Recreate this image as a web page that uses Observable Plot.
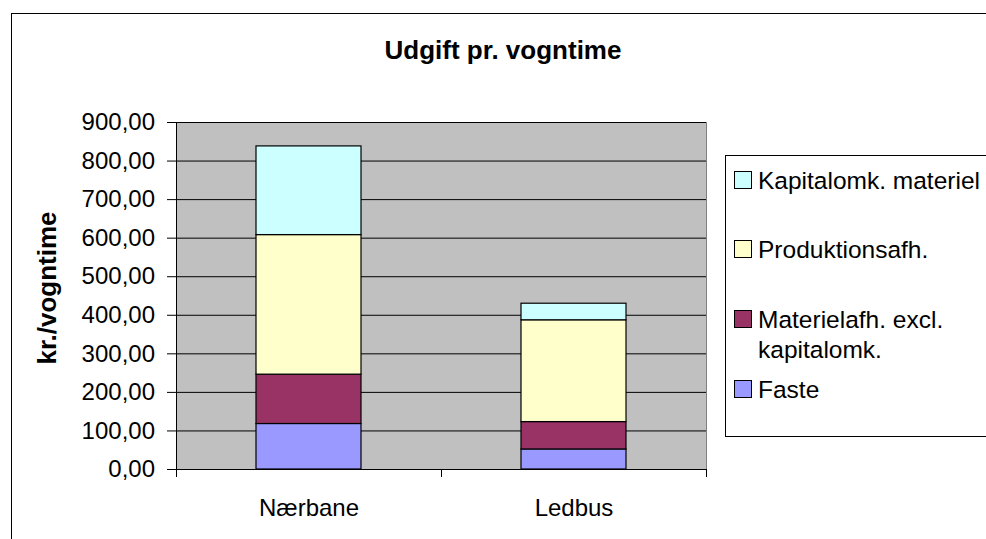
<!DOCTYPE html>
<html><head><meta charset="utf-8">
<script src="https://cdn.jsdelivr.net/npm/d3@7"></script>
<script src="https://cdn.jsdelivr.net/npm/@observablehq/plot@0.6"></script>
<style>
html,body{margin:0;padding:0;background:#fff;}
#chart{position:relative;width:986px;height:539px;overflow:hidden;font-family:"Liberation Sans",Arial,sans-serif;color:#000;background:#fff;}
#chart svg{position:absolute;left:0;top:0;}
.border{position:absolute;left:11px;top:13px;width:1000px;height:600px;border:1px solid #000;box-sizing:border-box;}
.title{position:absolute;left:11px;width:984px;top:35px;text-align:center;font-weight:bold;font-size:26px;line-height:30px;}
.ytitle{position:absolute;width:300px;height:30px;line-height:30px;text-align:center;font-weight:bold;font-size:26px;transform:rotate(-90deg);}
.legend{position:absolute;left:725px;top:155px;width:280px;height:282px;border:1px solid #000;box-sizing:border-box;background:#fff;}
.lg-item{position:absolute;font-size:24.5px;line-height:30px;white-space:nowrap;}
.lg-sw{position:absolute;width:18px;height:18px;border:1px solid #000;box-sizing:border-box;}
</style></head><body><div id="chart"></div>
<script>
// ---- data ----
const categories = ["Nærbane", "Ledbus"];
const seriesNames = ["Faste", "Materielafh. excl. kapitalomk.", "Produktionsafh.", "Kapitalomk. materiel"];
const faste = [118, 52];
const materielafh = [128, 71];
const produktionsafh = [362, 264];
const kapitalomk = [230, 43];
const seriesColors = ["#9999FF", "#993366", "#FFFFCC", "#CCFFFF"];
const yTicks = [0, 100, 200, 300, 400, 500, 600, 700, 800, 900];
const chartTitle = "Udgift pr. vogntime";
const yTitle = "kr./vogntime";
const legendLabels = [["Kapitalomk. materiel"], ["Produktionsafh."], ["Materielafh. excl.", "kapitalomk."], ["Faste"]];

const seriesValues = [faste, materielafh, produktionsafh, kapitalomk];
const rows = [];
seriesNames.forEach((s, i) => categories.forEach((c, j) => rows.push({series: s, category: c, value: seriesValues[i][j]})));

// ---- layout ----
const W = 986, H = 539, ml = 176, mr = 280, mt = 122, mb = 70;
const step = (W - ml - mr) / categories.length;
const fmt = d => d.toFixed(2).replace(".", ",");
const font = "Liberation Sans, Arial, sans-serif";

const chart = document.getElementById("chart");
const border = document.createElement("div"); border.className = "border"; chart.appendChild(border);

const plot = Plot.plot({
  width: W, height: H, marginLeft: ml, marginRight: mr, marginTop: mt, marginBottom: mb,
  style: {fontFamily: font, fontSize: "24px", color: "#000", background: "transparent", overflow: "visible"},
  x: {domain: categories, paddingInner: 0.603, paddingOuter: 0.3015, label: null},
  y: {domain: [0, 900], label: null},
  color: {domain: seriesNames, range: seriesColors},
  marks: [
    Plot.frame({fill: "#C0C0C0", stroke: "#808080"}),
    Plot.gridY(yTicks, {stroke: "#000", strokeOpacity: 1}),
    Plot.barY(rows, Plot.stackY({x: "category", y: "value", fill: "series", stroke: "#000", strokeWidth: 1.2})),
    Plot.frame({anchor: "left", stroke: "#000"}),
    Plot.axisY(yTicks, {tickSize: 9, tickPadding: 12.5, tickFormat: fmt, fontSize: 24, label: null}),
    Plot.axisX({tickSize: 0, tickPadding: 29, fontSize: 24, label: null}),
    Plot.axisX({tickSize: 8, dx: step / 2, tickFormat: () => "", label: null}),
    Plot.axisX([categories[0]], {tickSize: 8, dx: -step / 2, tickFormat: () => "", label: null})
  ]
});
chart.appendChild(plot);

const t = document.createElement("div"); t.className = "title"; t.textContent = chartTitle; chart.appendChild(t);
const yt = document.createElement("div"); yt.className = "ytitle"; yt.textContent = yTitle;
yt.style.left = (47 - 150) + "px"; yt.style.top = (288 - 15) + "px"; chart.appendChild(yt);

const lg = document.createElement("div"); lg.className = "legend"; chart.appendChild(lg);
const lgBaselines = [188, 257, 327, 397];
const colorOf = Object.fromEntries(seriesNames.map((s, i) => [s, seriesColors[i]]));
const legendOrder = [...seriesNames].reverse();
legendOrder.forEach((s, i) => {
  const base = lgBaselines[i] - 155;
  const sw = document.createElement("div"); sw.className = "lg-sw";
  sw.style.left = (733 - 725) + "px"; sw.style.top = (base - 18) + "px"; sw.style.background = colorOf[s];
  lg.appendChild(sw);
  const tx = document.createElement("div"); tx.className = "lg-item";
  tx.style.left = (757 - 725) + "px"; tx.style.top = (base - 23) + "px";
  tx.innerHTML = legendLabels[i].join("<br>");
  lg.appendChild(tx);
});
</script></body></html>
